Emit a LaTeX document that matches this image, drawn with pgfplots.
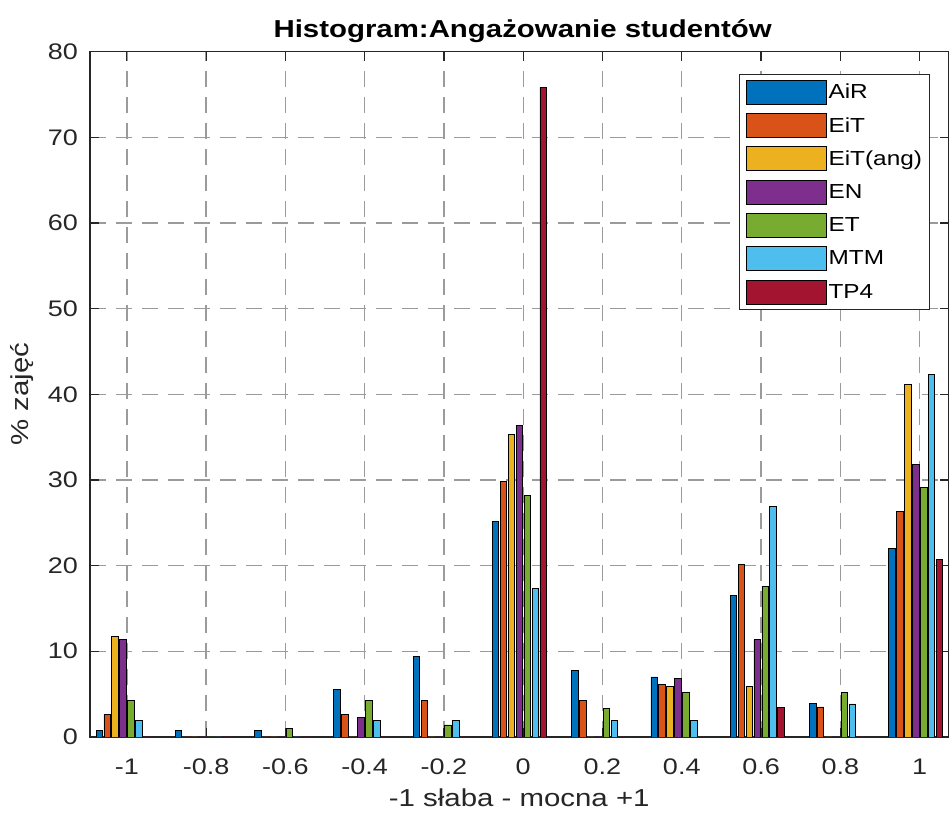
\documentclass[border=0pt]{standalone}
\usepackage{fontspec}
\setmainfont{Liberation Sans}[FakeStretch=1.2]
\usepackage{pgfplots}
\pgfplotsset{compat=1.18}
\definecolor{cAiR}{RGB}{0,114,189}
\definecolor{cEiT}{RGB}{217,83,25}
\definecolor{cEiTang}{RGB}{237,177,32}
\definecolor{cEN}{RGB}{126,47,142}
\definecolor{cET}{RGB}{119,172,48}
\definecolor{cMTM}{RGB}{77,190,238}
\definecolor{cTP}{RGB}{162,20,47}
\definecolor{axc}{RGB}{38,38,38}
\definecolor{gridc}{RGB}{155,155,155}
\pgfplotsset{
  barleg/.style={legend image code/.code={\draw[##1,line width=0.8pt] (0pt,-12pt) rectangle (80pt,12pt);}},
  mybar/.style={ybar, bar width=0.0164, draw=black, line width=0.8pt, fill=#1, barleg},
}
\begin{document}
\begin{tikzpicture}
\begin{axis}[
  scale only axis, width=858.5pt, height=685.2pt,
  at={(0,0)}, anchor=south west,
  xmin=-1.093, xmax=1.073, ymin=0, ymax=80,
  xtick={-1,-0.8,-0.6,-0.4,-0.2,0,0.2,0.4,0.6,0.8,1},
  xticklabels={-1,-0.8,-0.6,-0.4,-0.2,0,0.2,0.4,0.6,0.8,1},
  ytick={0,10,20,30,40,50,60,70,80},
  yticklabels={0,10,20,30,40,50,60,70,80},
  tick align=inside, major tick length=9pt,
  tick style={axc, line width=1.2pt},
  axis line style={axc, line width=1.6pt},
  grid=major,
  major grid style={gridc, line width=1.3pt, dash pattern=on 16pt off 10pt},
  ticklabel style={font=\fontsize{22.5}{26}\selectfont, text=axc},
  xticklabel style={anchor=base, yshift=-38pt, inner sep=0pt},
  yticklabel style={anchor=east, xshift=-12pt, inner sep=0pt},
  title={Histogram:Angażowanie studentów},
  title style={at={(axis description cs:0.504,1)}, anchor=base, yshift=8pt, font=\fontsize{24.5}{28}\selectfont\bfseries, inner sep=0pt},
  xlabel={-1 słaba - mocna +1},
  ylabel={\% zajęć},
  xlabel style={at={(axis description cs:0.5,0)}, anchor=base, yshift=-70pt, font=\fontsize{24.5}{28}\selectfont, text=axc, inner sep=0pt},
  ylabel style={at={(axis description cs:-0.0711,0.5)}, anchor=base, font=\fontsize{24.5}{28}\selectfont, text=axc, inner sep=0pt},
  legend style={at={(0.979,0.967)}, anchor=north east, draw=axc, line width=1pt,
    font=\fontsize{20.3}{23}\selectfont, row sep=8.5pt, inner xsep=6pt, inner ysep=5pt,
    cells={anchor=west}},
  legend cell align=left,
]
\addplot[mybar=cAiR, bar shift=-0.0696] coordinates {(-1,0.79) (-0.8,0.79) (-0.6,0.79) (-0.4,5.5) (-0.2,9.4) (0,25.2) (0.2,7.8) (0.4,7.0) (0.6,16.5) (0.8,3.9) (1,22.0)};
\addplot[mybar=cEiT, bar shift=-0.0496] coordinates {(-1,2.6) (-0.8,0) (-0.6,0) (-0.4,2.6) (-0.2,4.3) (0,29.8) (0.2,4.3) (0.4,6.1) (0.6,20.1) (0.8,3.5) (1,26.3)};
\addplot[mybar=cEiTang, bar shift=-0.0296] coordinates {(-1,11.76) (-0.8,0) (-0.6,0) (-0.4,0) (-0.2,0) (0,35.29) (0.2,0) (0.4,5.88) (0.6,5.88) (0.8,0) (1,41.18)};
\addplot[mybar=cEN, bar shift=-0.0096] coordinates {(-1,11.36) (-0.8,0) (-0.6,0) (-0.4,2.27) (-0.2,0) (0,36.36) (0.2,0) (0.4,6.82) (0.6,11.36) (0.8,0) (1,31.82)};
\addplot[mybar=cET, bar shift=0.0104] coordinates {(-1,4.3) (-0.8,0) (-0.6,1.0) (-0.4,4.3) (-0.2,1.4) (0,28.2) (0.2,3.3) (0.4,5.2) (0.6,17.6) (0.8,5.2) (1,29.1)};
\addplot[mybar=cMTM, bar shift=0.0304] coordinates {(-1,1.92) (-0.8,0) (-0.6,0) (-0.4,1.92) (-0.2,1.92) (0,17.31) (0.2,1.92) (0.4,1.92) (0.6,26.92) (0.8,3.85) (1,42.31)};
\addplot[mybar=cTP, bar shift=0.0504] coordinates {(-1,0) (-0.8,0) (-0.6,0) (-0.4,0) (-0.2,0) (0,75.86) (0.2,0) (0.4,0) (0.6,3.45) (0.8,0) (1,20.69)};
\legend{AiR,EiT,EiT(ang),EN,ET,MTM,TP4}
\end{axis}
\pgfresetboundingbox
\path (-90pt,-79.1pt) rectangle (859pt,736.9pt);
\end{tikzpicture}
\end{document}
